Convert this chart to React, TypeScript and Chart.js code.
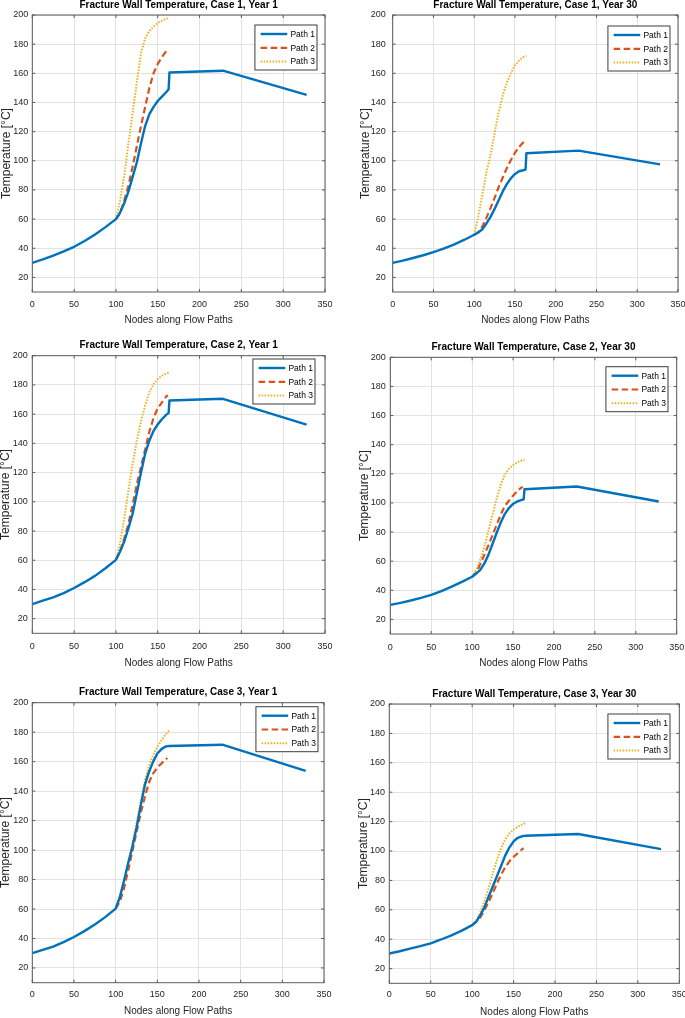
import React, { useEffect, useRef } from "react";
import { Chart, registerables } from "chart.js";

Chart.register(...registerables);

// ---------- DATA ----------
const xTickValues = [0, 50, 100, 150, 200, 250, 300, 350];
const yTickValues = [20, 40, 60, 80, 100, 120, 140, 160, 180, 200];
const seriesLabels = ["Path 1", "Path 2", "Path 3"];
const panelTitles = [
  "Fracture Wall Temperature, Case 1, Year 1",
  "Fracture Wall Temperature, Case 1, Year 30",
  "Fracture Wall Temperature, Case 2, Year 1",
  "Fracture Wall Temperature, Case 2, Year 30",
  "Fracture Wall Temperature, Case 3, Year 1",
  "Fracture Wall Temperature, Case 3, Year 30",
];
const xAxisTitle = "Nodes along Flow Paths";
const yAxisTitle = "Temperature [°C]";

const path1Nodes = [0, 12.5, 25, 37.5, 50, 62.5, 75, 87.5, 100, 105, 110, 115, 120, 125, 130, 135, 140, 145, 150, 155, 160, 163, 164, 228, 328];
const path2Nodes = [100, 105, 110, 115, 120, 125, 130, 135, 140, 145, 150, 155, 160, 162];
const path3Nodes = [100, 105, 110, 115, 120, 125, 130, 135, 140, 145, 150, 155, 160, 164];

const case1Year1Path1 = [30, 32.4, 35, 37.8, 41, 45, 49.5, 54.5, 60, 64.5, 71, 79, 89, 99, 112, 124, 132, 137, 141, 144, 147, 149, 160.6, 161.8, 145.2];
const case1Year1Path2 = [60, 64, 73, 83, 96, 110, 124, 137, 150, 160, 166.5, 171, 175, 176.5];
const case1Year1Path3 = [60, 73, 90, 112, 133, 154, 174, 184, 189, 192, 194.5, 196, 197.3, 198];

const case1Year30Path1 = [30, 31.5, 33.3, 35.2, 37.4, 39.8, 42.5, 45.7, 49.3, 50.8, 53, 57, 61.5, 67, 73, 79, 84, 88, 91, 92.8, 93.5, 94, 105.2, 107, 97.5];
const case1Year30Path2 = [49.3, 51, 55, 61, 67.5, 74.5, 82, 88.5, 95, 100.5, 105.5, 109.5, 112.5, 113.5];
const case1Year30Path3 = [49.3, 62, 77, 92, 104, 119, 133, 145, 153.5, 160, 165.5, 168.8, 171, 172];

const case2Year1Path1 = [30, 32.3, 34.6, 37.5, 41, 45, 49.3, 54.5, 60.3, 66, 73, 82, 92, 106, 120, 133, 142, 148.5, 153, 156.5, 159.5, 160.8, 169.3, 170.5, 152.8];
const case2Year1Path2 = [60.3, 66, 75, 85, 98, 112, 124, 136, 148, 157.5, 164, 168, 172, 173];
const case2Year1Path3 = [60.3, 72, 89, 108, 126, 142, 155, 166, 175, 180.5, 184, 186.3, 187.8, 188.5];

const case2Year30Path1 = [30, 31.4, 33, 34.8, 36.8, 39.5, 42.5, 45.8, 49.3, 51.5, 54, 58.5, 64.5, 72, 79.5, 86.5, 92.5, 96.5, 99.3, 101, 102, 102.5, 109.4, 111.3, 101];
const case2Year30Path2 = [49.3, 52, 58, 64.5, 71, 78, 85, 92, 98, 101.5, 105, 108, 110.5, 111];
const case2Year30Path3 = [49.3, 54, 61, 70, 81, 92, 103, 112.5, 119.5, 123.5, 126, 127.8, 129, 129.7];

const case3Year1Path1 = [30, 32.3, 34.5, 37.5, 41, 45, 49.5, 54.5, 60.3, 68, 79, 91, 102, 115, 130, 144, 153, 160, 165.5, 168.5, 170.3, 170.5, 170.6, 171.5, 153.7];
const case3Year1Path2 = [60.3, 65, 74, 86, 99, 112, 125, 136, 146, 152, 156, 158.8, 161.5, 162.5];
const case3Year1Path3 = [60.3, 68, 79, 91, 104, 118, 133, 147, 157, 164.5, 170, 174.5, 178.5, 181];

const case3Year30Path1 = [30.3, 31.8, 33.6, 35.3, 37.2, 39.8, 42.6, 45.8, 49.6, 52, 56.5, 62, 69, 76, 83, 90, 97, 102.5, 106.5, 109, 110, 110.3, 110.4, 111.6, 101.3];
const case3Year30Path2 = [49.6, 52, 55, 60, 65.5, 71.5, 78, 84, 89, 93, 96, 98.5, 101, 102];
const case3Year30Path3 = [49.6, 53, 58.5, 66, 75, 85, 94, 102, 108, 112, 114.5, 116.5, 118, 119];

const panelSeries = [
  [case1Year1Path1, case1Year1Path2, case1Year1Path3],
  [case1Year30Path1, case1Year30Path2, case1Year30Path3],
  [case2Year1Path1, case2Year1Path2, case2Year1Path3],
  [case2Year30Path1, case2Year30Path2, case2Year30Path3],
  [case3Year1Path1, case3Year1Path2, case3Year1Path3],
  [case3Year30Path1, case3Year30Path2, case3Year30Path3],
];
const seriesNodes = [path1Nodes, path2Nodes, path3Nodes];

// ---------- LAYOUT / STYLE ----------
const FONT = "'Liberation Sans', Arial, Helvetica, sans-serif";
const AXIS_H = 35;
const RIGHT_ROOM = 10;
const panelLayout = [
  { cl: 0, ct: 0, L: 32.3, T: 15, R: 325, B: 292, titleY: 5.5, yTitleX: 6.7, yGap: 4, xTickOff: 12.2, xTitleOff: 28.5, legR: 8, legT: 10 },
  { cl: 359, ct: 0, L: 392.7, T: 15, R: 678, B: 292, titleY: 5.5, yTitleX: 366, yGap: 7, xTickOff: 12.2, xTitleOff: 28, legR: 8, legT: 11 },
  { cl: 0, ct: 340, L: 32.3, T: 355.7, R: 325, B: 633.3, titleY: 345.5, yTitleX: 6, yGap: 4.6, xTickOff: 13.7, xTitleOff: 29.5, legR: 10, legT: 3.3 },
  { cl: 358, ct: 341, L: 390.3, T: 357.3, R: 676.7, B: 634, titleY: 347, yTitleX: 364.5, yGap: 4.6, xTickOff: 13.5, xTitleOff: 29, legR: 8.7, legT: 9.4 },
  { cl: 0, ct: 686, L: 32.3, T: 702.7, R: 324, B: 982.7, titleY: 692, yTitleX: 6, yGap: 4, xTickOff: 11.5, xTitleOff: 28.3, legR: 6, legT: 4 },
  { cl: 357, ct: 688, L: 389.3, T: 704, R: 679.3, B: 983.3, titleY: 694.7, yTitleX: 363.3, yGap: 4.3, xTickOff: 11.4, xTitleOff: 29.4, legR: 9.3, legT: 10 },
];
const seriesStyles = [
  { color: "#0072BD", width: 2.4, dash: [] as number[] },
  { color: "#D95319", width: 2.2, dash: [6.5, 3.5] },
  { color: "#EDB120", width: 2, dash: [1.5, 1.5] },
];
const GRID = "#e2e2e2";
const AXIS_COLOR = "#262626";
const BOX_COLOR = "#5a5a5a";

function makeBoxPlugin() {
  return {
    id: "axesBox",
    afterDatasetsDraw(chart: any) {
      const { ctx, chartArea } = chart;
      const { left, right, top, bottom } = chartArea;
      const xs = chart.scales.x;
      const ys = chart.scales.y;
      ctx.save();
      ctx.strokeStyle = BOX_COLOR;
      ctx.lineWidth = 1;
      ctx.beginPath();
      const tl = 3;
      for (const v of xTickValues) {
        const px = xs.getPixelForValue(v);
        ctx.moveTo(px, bottom);
        ctx.lineTo(px, bottom - tl);
        ctx.moveTo(px, top);
        ctx.lineTo(px, top + tl);
      }
      for (const v of yTickValues) {
        const py = ys.getPixelForValue(v);
        ctx.moveTo(left, py);
        ctx.lineTo(left + tl, py);
        ctx.moveTo(right, py);
        ctx.lineTo(right - tl, py);
      }
      ctx.stroke();
      ctx.strokeRect(left, top, right - left, bottom - top);
      ctx.restore();
    },
  };
}

function makeLegendPlugin(legR: number, legT: number) {
  return {
    id: "matlabLegend",
    afterDraw(chart: any) {
      const { ctx, chartArea } = chart;
      const ds = chart.data.datasets;
      ctx.save();
      ctx.font = `8.5px ${FONT}`;
      let maxW = 0;
      for (const d of ds) maxW = Math.max(maxW, ctx.measureText(d.label).width);
      const sampleX0 = 5.7;
      const sampleLen = 26.6;
      const textX = 35.5;
      const boxW = textX + maxW + 2;
      const boxH = 45;
      const rowY = [9, 22.8, 36.6];
      const bx = chartArea.right - legR - boxW;
      const by = chartArea.top + legT;
      ctx.fillStyle = "#ffffff";
      ctx.fillRect(bx, by, boxW, boxH);
      ctx.strokeStyle = "#3c3c3c";
      ctx.lineWidth = 1;
      ctx.strokeRect(bx, by, boxW, boxH);
      ds.forEach((d: any, i: number) => {
        const y = by + rowY[i];
        ctx.beginPath();
        ctx.strokeStyle = d.borderColor;
        ctx.lineWidth = d.borderWidth;
        ctx.setLineDash(d.borderDash || []);
        ctx.moveTo(bx + sampleX0, y);
        ctx.lineTo(bx + sampleX0 + sampleLen, y);
        ctx.stroke();
        ctx.setLineDash([]);
        ctx.fillStyle = "#000000";
        ctx.textBaseline = "middle";
        ctx.textAlign = "left";
        ctx.fillText(d.label, bx + textX, y + 0.5);
      });
      ctx.restore();
    },
  };
}

function Panel({ index }: { index: number }) {
  const ref = useRef<HTMLCanvasElement | null>(null);
  const p = panelLayout[index];
  const width = Math.ceil(p.R + RIGHT_ROOM - p.cl);
  const height = Math.ceil(p.B + AXIS_H - p.ct);

  useEffect(() => {
    const canvas = ref.current;
    if (!canvas) return;
    const titleTop = p.titleY - p.ct - 5;
    const titleBottom = p.T - p.ct - 10 - titleTop;
    const yAxisWidth = p.L - p.cl;
    const chartBottomPad = height - (p.B - p.ct) - AXIS_H;
    const datasets = seriesLabels.map((label, i) => ({
      label,
      data: seriesNodes[i].map((x, k) => ({ x, y: panelSeries[index][i][k] })),
      borderColor: seriesStyles[i].color,
      backgroundColor: seriesStyles[i].color,
      borderWidth: seriesStyles[i].width,
      borderDash: seriesStyles[i].dash,
      pointRadius: 0,
      pointHoverRadius: 0,
      tension: 0,
      fill: false,
      borderJoinStyle: "round" as const,
    }));
    const chart = new Chart(canvas, {
      type: "line",
      data: { datasets },
      options: {
        animation: false,
        responsive: false,
        devicePixelRatio: 1,
        events: [],
        layout: { padding: { left: 0, top: 0, right: width - (p.R - p.cl), bottom: chartBottomPad } },
        plugins: {
          legend: { display: false },
          tooltip: { enabled: false },
          title: {
            display: true,
            text: panelTitles[index],
            fullSize: false,
            color: "#000000",
            font: { family: FONT, size: 10, weight: "bold", lineHeight: 1 },
            padding: { top: titleTop, bottom: titleBottom },
          },
        },
        scales: {
          x: {
            type: "linear",
            min: 0,
            max: 350,
            afterBuildTicks: (s: any) => {
              s.ticks = xTickValues.map((v) => ({ value: v }));
            },
            afterFit: (s: any) => {
              s.height = AXIS_H;
              s.paddingLeft = 0;
              s.paddingRight = 0;
              s.paddingTop = 0;
              s.paddingBottom = 0;
            },
            grid: { color: GRID, lineWidth: 1, drawTicks: false },
            border: { display: false },
            ticks: {
              autoSkip: false,
              maxRotation: 0,
              padding: p.xTickOff - 5.4,
              color: AXIS_COLOR,
              font: { family: FONT, size: 9, lineHeight: 1.2 },
            },
            title: {
              display: true,
              text: xAxisTitle,
              color: AXIS_COLOR,
              font: { family: FONT, size: 10, lineHeight: 1 },
              padding: { top: 0, bottom: AXIS_H - 5 - p.xTitleOff },
            },
          },
          y: {
            type: "linear",
            min: 10,
            max: 200,
            afterBuildTicks: (s: any) => {
              s.ticks = yTickValues.map((v) => ({ value: v }));
            },
            afterFit: (s: any) => {
              s.width = yAxisWidth;
              s.paddingLeft = 0;
              s.paddingRight = 0;
              s.paddingTop = 0;
              s.paddingBottom = 0;
            },
            grid: { color: GRID, lineWidth: 1, drawTicks: false },
            border: { display: false },
            ticks: {
              autoSkip: false,
              padding: p.yGap,
              color: AXIS_COLOR,
              font: { family: FONT, size: 9, lineHeight: 1.2 },
            },
            title: {
              display: true,
              text: yAxisTitle,
              color: AXIS_COLOR,
              font: { family: FONT, size: 12, lineHeight: 1 },
              padding: { top: p.yTitleX - p.cl - 6, bottom: 0 },
            },
          },
        },
      },
      plugins: [makeBoxPlugin(), makeLegendPlugin(p.legR, p.legT)],
    });
    return () => chart.destroy();
  }, [index]);

  return (
    <canvas
      ref={ref}
      width={width}
      height={height}
      style={{ position: "absolute", left: p.cl, top: p.ct, width, height, display: "block" }}
    />
  );
}

export default function App() {
  return (
    <div
      style={{
        position: "absolute",
        left: 0,
        top: 0,
        width: 685,
        height: 1018,
        background: "#ffffff",
        overflow: "hidden",
      }}
    >
      {panelLayout.map((_, i) => (
        <Panel key={i} index={i} />
      ))}
    </div>
  );
}
